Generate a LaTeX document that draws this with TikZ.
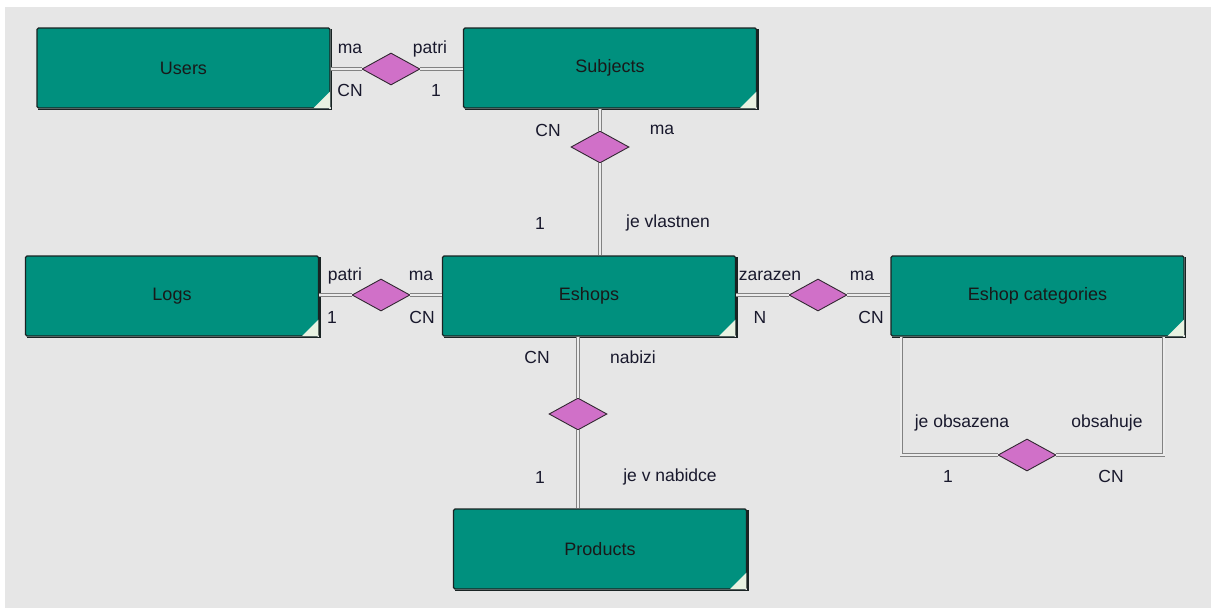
\documentclass[tikz,border=0pt]{standalone}
\usepackage{fontspec}
\setmainfont{Liberation Sans}
\usetikzlibrary{shapes.geometric,calc}

\definecolor{canvas}{RGB}{230,230,230}
\definecolor{entfill}{RGB}{0,144,126}
\definecolor{entedge}{RGB}{25,35,35}
\definecolor{corner}{RGB}{232,242,226}
\definecolor{relfill}{RGB}{208,112,200}
\definecolor{reledge}{RGB}{50,40,50}
\definecolor{linkgray}{RGB}{130,130,130}
\definecolor{linkfill}{RGB}{236,236,236}
\definecolor{labtext}{RGB}{25,25,45}

\tikzset{
  entity/.style={rectangle, rounded corners=1.5pt, fill=entfill, draw=entedge,
    line width=1.1pt, minimum width=293pt, minimum height=80pt, inner sep=0pt,
    text=black!90, font=\fontsize{18}{22}\selectfont},
  relation/.style={diamond, fill=relfill, draw=reledge, line width=0.9pt,
    minimum width=58pt, minimum height=32pt, inner sep=0pt, aspect=1.8},
  link/.style={draw=linkgray, line width=0.8pt, double=linkfill,
    double distance=2pt, line join=miter},
  card/.style={text=labtext, font=\fontsize{17.5}{21}\selectfont, inner sep=0pt,
    anchor=center},
}

% draws the shadow edge and folded corner of an entity box
\newcommand{\entdeco}[1]{%
  \draw[entedge, line width=1.2pt] ([xshift=0.9pt,yshift=-2pt]#1.north east) -- ([xshift=0.9pt,yshift=-0.9pt]#1.south east) -- ([xshift=2pt,yshift=-0.9pt]#1.south west);
  \fill[corner] ([xshift=-17pt,yshift=0.6pt]#1.south east) -- ([xshift=-0.6pt,yshift=0.6pt]#1.south east) -- ([xshift=-0.6pt,yshift=17pt]#1.south east) -- cycle;
}

\begin{document}
\begin{tikzpicture}[x=1pt,y=-1pt]
  \useasboundingbox (0,0) rectangle (1211,608);
  \fill[white] (0,0) rectangle (1211,608);
  \fill[canvas] (5,7) rectangle (1211,608);

  % entities
  \node[entity] (usr) at (183.5,68) {Users};
  \node[entity] (sub) at (610,68) {Subjects};
  \node[entity] (log) at (172,296) {Logs};
  \node[entity] (esh) at (589,296) {Eshops};
  \node[entity] (cat) at (1037.5,296) {Eshop categories};
  \node[entity] (prd) at (600,549) {Products};
  \foreach \e in {usr,sub,log,esh,cat,prd} {\entdeco{\e}}

  % relationships
  \node[relation] (r1) at (391,69) {};
  \node[relation] (r2) at (600,147) {};
  \node[relation] (r3) at (381,295) {};
  \node[relation] (r4) at (818,295) {};
  \node[relation] (r5) at (578,414) {};
  \node[relation] (r6) at (1027,455) {};

  % connectors
  \draw[link] (usr.east |- r1) -- (r1.west);
  \draw[link] (r1.east) -- (sub.west |- r1);
  \draw[link] (r2 |- sub.south) -- (r2.north);
  \draw[link] (r2.south) -- (r2 |- esh.north);
  \draw[link] (log.east |- r3) -- (r3.west);
  \draw[link] (r3.east) -- (esh.west |- r3);
  \draw[link] (esh.east |- r4) -- (r4.west);
  \draw[link] (r4.east) -- (cat.west |- r4);
  \draw[link] (r5 |- esh.south) -- (r5.north);
  \draw[link] (r5.south) -- (r5 |- prd.north);
  \draw[link] ([xshift=11pt]cat.south west) |- (r6.west);
  \draw[link] (r6.east) -| ([xshift=-21pt]cat.south east);

  % cardinalities and role names
  \node[card] (t1) at (350,49) {ma};
  \node[card] (t2) at (350,90) {CN};
  \node[card] (t3) at (430,49) {patri};
  \node[card] (t4) at (436,90) {1};

  \node[card] (t5) at (548,130) {CN};
  \node[card] (t6) at (662,130) {ma};
  \node[card] (t7) at (540,223) {1};
  \node[card] (t8) at (668,223) {je vlastnen};

  \node[card] (t9) at (345,276) {patri};
  \node[card] (t10) at (332,317) {1};
  \node[card] (t11) at (421,276) {ma};
  \node[card] (t12) at (422,317) {CN};

  \node[card] (t13) at (770,276) {zarazen};
  \node[card] (t14) at (760,317) {N};
  \node[card] (t15) at (862,276) {ma};
  \node[card] (t16) at (871,317) {CN};

  \node[card] (t17) at (537,357) {CN};
  \node[card] (t18) at (633,357) {nabizi};
  \node[card] (t19) at (540,477) {1};
  \node[card] (t20) at (670,477) {je v nabidce};

  \node[card] (t21) at (962,423) {je obsazena};
  \node[card] (t22) at (1107,423) {obsahuje};
  \node[card] (t23) at (948,476) {1};
  \node[card] (t24) at (1111,476) {CN};
\end{tikzpicture}
\end{document}
